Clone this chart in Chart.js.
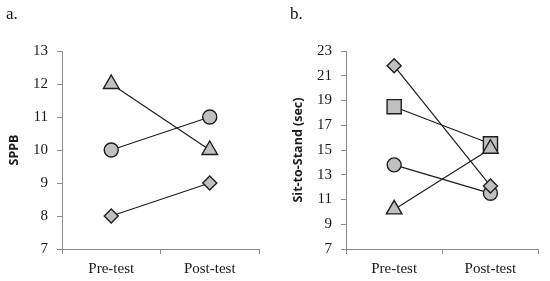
<!DOCTYPE html>
<html>
<head>
<meta charset="utf-8">
<script src="https://cdn.jsdelivr.net/npm/chart.js@4/dist/chart.umd.min.js"></script>
<style>
  html, body { margin: 0; padding: 0; background: #fff; }
  #wrap { position: relative; width: 550px; height: 281px; overflow: hidden; }
  .panel { position: absolute; top: 0; width: 275px; height: 281px; }
  .lab { position: absolute; font-family: "Liberation Serif", serif; font-size: 17px; color: #111; }
</style>
</head>
<body>
<div id="wrap">
  <div class="panel" style="left:0"><canvas id="ca" width="275" height="281"></canvas></div>
  <div class="panel" style="left:275px"><canvas id="cb" width="275" height="281"></canvas></div>
  <div class="lab" style="left:6px; top:4px">a.</div>
  <div class="lab" style="left:290px; top:4px">b.</div>
</div>
<script>
// ---- data ----
const categories = ["Pre-test", "Post-test"];

// Panel a: SPPB
const sppbTriangle = [12, 10];
const sppbCircle   = [10, 11];
const sppbDiamond  = [8, 9];
const sppbTicks = { min: 7, max: 13, step: 1 };

// Panel b: Sit-to-Stand (sec)
const stsDiamond  = [21.8, 12.1];
const stsSquare   = [18.5, 15.5];
const stsCircle   = [13.8, 11.5];
const stsTriangle = [10.2, 15.1];
const stsTicks = { min: 7, max: 23, step: 2 };

// ---- styling ----
const FILL = '#c0c0c0';
const EDGE = '#1e1e1e';
const AXIS = '#8c8c8c';
const serif = "'Liberation Serif', 'Times New Roman', serif";

const shapes = {
  triangle: { pointStyle: 'triangle', pointRadius: 9 },
  circle:   { pointStyle: 'circle',   pointRadius: 7 },
  diamond:  { pointStyle: 'rectRot',  pointRadius: 7 },
  square:   { pointStyle: 'rect',     pointRadius: 10 }
};

function ds(data, shape) {
  return Object.assign({
    data: data,
    borderColor: EDGE,
    borderWidth: 1.2,
    backgroundColor: FILL,
    pointBackgroundColor: FILL,
    pointBorderColor: EDGE,
    pointBorderWidth: 1.4,
    tension: 0,
    fill: false,
    clip: false
  }, shapes[shape], { pointHoverRadius: shapes[shape].pointRadius });
}

function makeChart(id, datasets, ticksCfg, title, yWidth, titlePad, padRight) {
  return new Chart(document.getElementById(id), {
    type: 'line',
    data: { labels: categories, datasets: datasets },
    options: {
      responsive: false,
      animation: false,
      events: [],
      layout: { padding: { left: 0, right: padRight, top: 51, bottom: 0 } },
      plugins: { legend: { display: false }, tooltip: { enabled: false } },
      scales: {
        x: {
          type: 'category',
          offset: true,
          grid: { display: true, offset: true, drawOnChartArea: false, drawTicks: true, tickLength: 5, color: AXIS, lineWidth: 1 },
          border: { display: true, color: AXIS, width: 1 },
          ticks: { color: '#1a1a1a', font: { family: serif, size: 15 }, padding: 6, maxRotation: 0 },
          afterFit: function (s) { s.height = 32; }
        },
        y: {
          min: ticksCfg.min,
          max: ticksCfg.max,
          grid: { display: true, drawOnChartArea: false, drawTicks: true, tickLength: 5, color: AXIS, lineWidth: 1 },
          border: { display: true, color: AXIS, width: 1 },
          ticks: { stepSize: ticksCfg.step, color: '#1a1a1a', font: { family: serif, size: 15 }, padding: 9 },
          title: { display: true, text: title, color: '#1a1a1a', font: { family: "'Open Sans', 'Liberation Sans', sans-serif", size: 12.5, weight: 'bold' }, padding: { top: titlePad, bottom: 0 } },
          afterFit: function (s) { s.width = yWidth; }
        }
      }
    }
  });
}

makeChart('ca', [
  ds(sppbTriangle, 'triangle'),
  ds(sppbCircle, 'circle'),
  ds(sppbDiamond, 'diamond')
], sppbTicks, 'SPPB', 62, 7, 16);

makeChart('cb', [
  ds(stsTriangle, 'triangle'),
  ds(stsDiamond, 'diamond'),
  ds(stsSquare, 'square'),
  ds(stsCircle, 'circle')
], stsTicks, 'Sit-to-Stand (sec)', 71, 16, 7);
</script>
</body>
</html>
